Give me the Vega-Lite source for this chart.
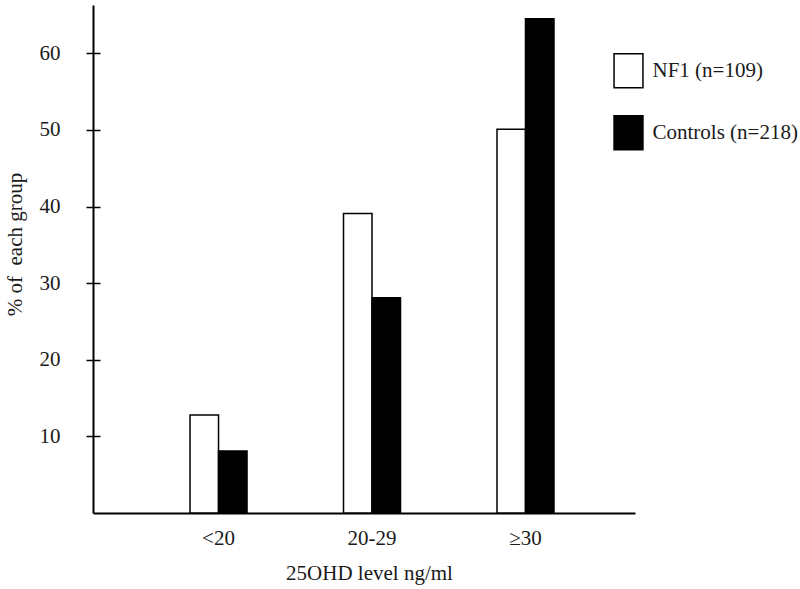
{
  "$schema": "https://vega.github.io/schema/vega-lite/v6.json",
  "width": 542,
  "height": 508,
  "autosize": {"type": "none"},
  "padding": {"left": 93, "top": 5, "right": 165, "bottom": 76},
  "background": "white",
  "config": {
    "view": {"stroke": null},
    "font": "Liberation Serif",
    "axis": {"labelFont": "Liberation Serif", "titleFont": "Liberation Serif", "labelColor": "#1a1a1a", "titleColor": "#1a1a1a", "domainColor": "#000", "tickColor": "#000", "grid": false, "labelFontSize": 21, "titleFontSize": 21, "titleFontWeight": "normal"}
  },
  "data": {
    "values": [
      {"level": "<20", "group": "NF1 (n=109)", "pct": 12.8},
      {"level": "<20", "group": "Controls (n=218)", "pct": 8.1},
      {"level": "20-29", "group": "NF1 (n=109)", "pct": 39.1},
      {"level": "20-29", "group": "Controls (n=218)", "pct": 28.1},
      {"level": "≥30", "group": "NF1 (n=109)", "pct": 50.1},
      {"level": "≥30", "group": "Controls (n=218)", "pct": 64.5}
    ]
  },
  "encoding": {
    "x": {
      "field": "level", "type": "nominal", "sort": ["<20", "20-29", "≥30"],
      "scale": {"paddingInner": 0.6287, "paddingOuter": 0.58, "align": 0.545},
      "axis": {"title": "25OHD level ng/ml", "labelAngle": 0, "ticks": false, "labelPadding": 14, "domainWidth": 2, "titlePadding": 14, "titleX": 276}
    },
    "xOffset": {"field": "group", "type": "nominal", "sort": ["NF1 (n=109)", "Controls (n=218)"], "scale": {"paddingInner": 0, "paddingOuter": 0}}
  },
  "layer": [
    {
      "mark": {"type": "bar", "stroke": "#000", "strokeWidth": 1.5},
      "encoding": {
        "y": {
          "field": "pct", "type": "quantitative",
          "scale": {"domain": [0, 66.3], "nice": false, "zero": true},
          "axis": {"orient": "left", "title": "% of\u00a0 each group", "values": [10, 20, 30, 40, 50, 60], "tickSize": 7, "tickWidth": 1.5, "domainWidth": 2, "labelPadding": 26, "titlePadding": 14, "titleY": 239}
        },
        "color": {
          "field": "group", "type": "nominal", "sort": ["NF1 (n=109)", "Controls (n=218)"],
          "scale": {"domain": ["NF1 (n=109)", "Controls (n=218)"], "range": ["#ffffff", "#000000"]},
          "legend": {
            "title": null, "orient": "none", "legendX": 517.5, "legendY": 47.7,
            "symbolType": "M-0.85,-1H0.85V1H-0.85Z", "symbolSize": 1156,
            "symbolStrokeColor": "#000", "symbolStrokeWidth": 1.5, "symbolOpacity": 1,
            "labelFont": "Liberation Serif", "labelFontSize": 21, "labelColor": "#1a1a1a",
            "labelOffset": 6, "rowPadding": 22, "padding": 0
          }
        }
      }
    },
    {
      "mark": {"type": "bar", "opacity": 0},
      "encoding": {
        "y": {
          "field": "pct", "type": "quantitative",
          "axis": {"orient": "left", "title": null, "labels": false, "domain": false, "values": [10, 20, 30, 40, 50, 60], "tickSize": -7, "tickWidth": 1.5}
        }
      }
    }
  ],
  "resolve": {"axis": {"y": "independent"}}
}
